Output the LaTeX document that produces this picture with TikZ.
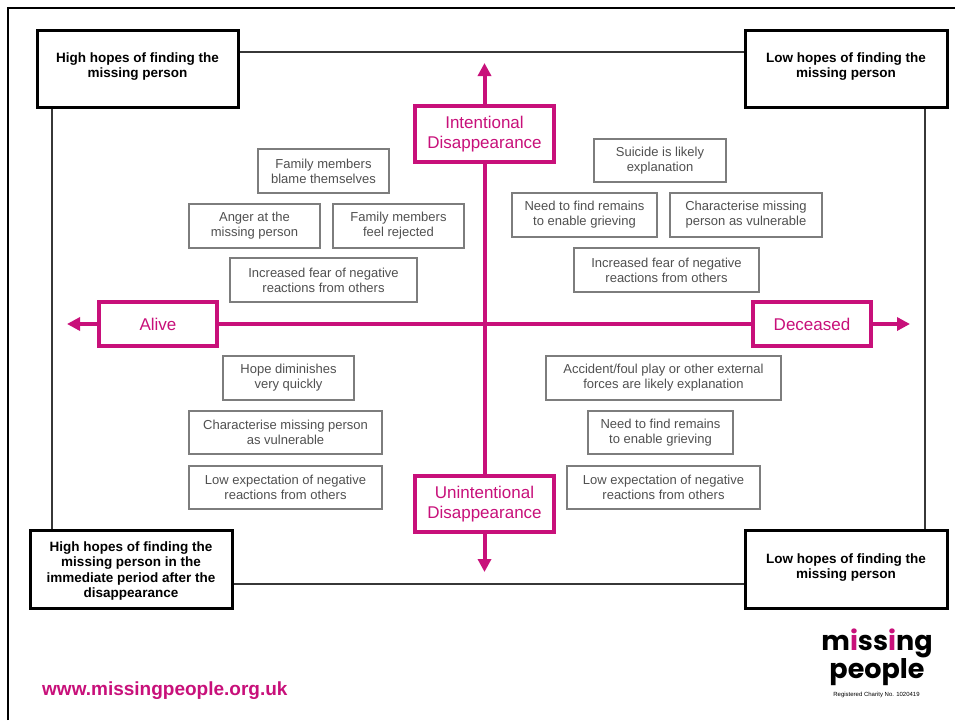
\documentclass[tikz,border=0pt]{standalone}
\usepackage{fontspec}
\setmainfont{Liberation Sans}
\newfontfamily\logofont{Poppins}
\usetikzlibrary{arrows.meta}
\definecolor{mag}{RGB}{200,16,122}
\definecolor{txtgray}{RGB}{80,80,80}
\definecolor{boxgray}{RGB}{125,125,125}
\definecolor{framegray}{RGB}{55,55,55}
\tikzset{
  outerframe/.style={draw=black, line width=2.5pt},
  innerframe/.style={draw=framegray, line width=2pt},
  cornerbox/.style={draw=black, line width=3pt, fill=white, inner sep=0pt},
  cornertext/.style={font=\fontsize{13.5}{15.5}\selectfont\bfseries, align=center, inner sep=0pt, text=black},
  graybox/.style={draw=boxgray, line width=1.2pt, fill=white, text=txtgray, font=\fontsize{13}{15}\selectfont, align=center, inner sep=0pt},
  magbox/.style={draw=mag, line width=3.5pt, fill=white, text=mag, font=\fontsize{17}{19.5}\selectfont, align=center, inner sep=0pt},
  axis/.style={draw=mag, line width=4pt},
  axisarrow/.style={axis, -{Triangle[length=13pt,width=13pt]}},
  logotext/.style={inner sep=0pt, align=center, font=\logofont\bfseries\fontsize{27}{23.5}\selectfont},
}
\newcommand\gbox[6]{\node[graybox, minimum width=#4-#2, minimum height=#5-#3] (#1) at ({(#2+#4)/2},{(#3+#5)/2}) {#6};}
\newcommand\cbox[5]{\node[cornerbox, minimum width=#4-#2, minimum height=#5-#3] (#1) at ({(#2+#4)/2},{(#3+#5)/2}) {};}
\newcommand\magnode[6]{\node[magbox, minimum width=#4-#2, minimum height=#5-#3] (#1) at ({(#2+#4)/2},{(#3+#5)/2}) {#6};}
\begin{document}
\begin{tikzpicture}[x=1pt,y=-1pt]
\useasboundingbox[fill=white] (0,0) rectangle (955,720);
% outer frame
\draw[outerframe] (8,720) -- (8,8) -- (955,8);
% inner frame
\draw[innerframe] (52,52) rectangle (925,584);
% corner boxes
\cbox{tl}{37}{30}{238}{107}
\cbox{tr}{745}{30}{947}{107}
\cbox{bl}{30}{530}{232}{608}
\cbox{br}{745}{530}{947}{608}
\node[cornertext] (tlt) at ([yshift=2pt]tl.center) {High hopes of finding the\\missing person};
\node[cornertext] (trt) at ([yshift=2pt]tr.center) {Low hopes of finding the\\missing person};
\node[cornertext] (blt) at ([yshift=-2pt]bl.center) {High hopes of finding the\\missing person in the\\immediate period after the\\disappearance};
\node[cornertext] (brt) at ([yshift=1.5pt]br.center) {Low hopes of finding the\\missing person};
% axis boxes
\magnode{alive}{99}{302}{217}{346}{Alive}
\magnode{deceased}{753}{302}{871}{346}{Deceased}
\magnode{intent}{415}{106}{554}{162}{Intentional\\Disappearance}
\magnode{unint}{415}{476}{554}{532}{Unintentional\\Disappearance}
\coordinate (ltip) at (67,324);
\coordinate (rtip) at (910,324);
\coordinate (ttip) at (484.5,63);
\coordinate (btip) at (484.5,572);
\draw[axis] (alive.east) -- (deceased.west);
\draw[axis] (intent.south) -- (unint.north);
\draw[axisarrow] (alive.west) -- (ltip);
\draw[axisarrow] (deceased.east) -- (rtip);
\draw[axisarrow] (intent.north) -- (ttip);
\draw[axisarrow] (unint.south) -- (btip);
% top-left quadrant
\gbox{a1}{258}{149}{389}{193}{Family members\\blame themselves}
\gbox{a2}{189}{204}{320}{248}{Anger at the\\missing person}
\gbox{a3}{333}{204}{464}{248}{Family members\\feel rejected}
\gbox{a4}{230}{258}{417}{302}{Increased fear of negative\\reactions from others}
% top-right quadrant
\gbox{b1}{594}{139}{726}{182}{Suicide is likely\\explanation}
\gbox{b2}{512}{193}{657}{237}{Need to find remains\\to enable grieving}
\gbox{b3}{670}{193}{822}{237}{Characterise missing\\person as vulnerable}
\gbox{b4}{574}{248}{759}{292}{Increased fear of negative\\reactions from others}
% bottom-left quadrant
\gbox{c1}{223}{356}{354}{400}{Hope diminishes\\very quickly}
\gbox{c2}{189}{411}{382}{454}{Characterise missing person\\as vulnerable}
\gbox{c3}{189}{466}{382}{509}{Low expectation of negative\\reactions from others}
% bottom-right quadrant
\gbox{d1}{546}{356}{781}{400}{Accident/foul play or other external\\forces are likely explanation}
\gbox{d2}{588}{411}{733}{454}{Need to find remains\\to enable grieving}
\gbox{d3}{567}{466}{760}{509}{Low expectation of negative\\reactions from others}
% footer
\node[anchor=west, inner sep=0pt, text=mag, font=\fontsize{19}{20}\selectfont\bfseries] (url) at (42,691) {www.missingpeople.org.uk};
\node[logotext] (logo) at (877,657) {m\textcolor{mag}{i}ss\textcolor{mag}{i}ng\\people};
\node[inner sep=0pt, font=\fontsize{6}{7}\selectfont] (charity) at (876.5,695) {Registered Charity No. 1020419};
\end{tikzpicture}
\end{document}
